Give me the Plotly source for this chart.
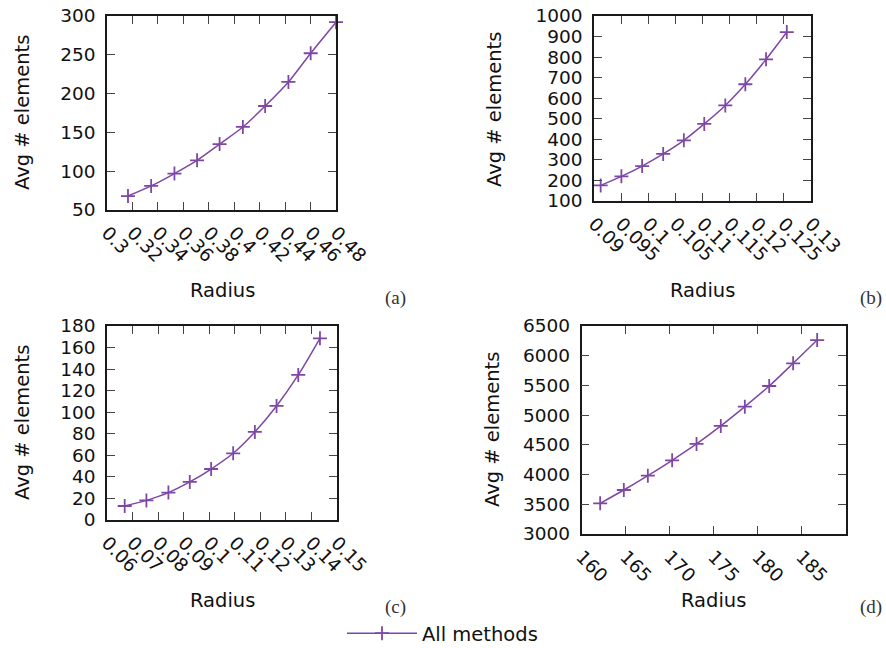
import plotly.graph_objects as go

# ---- data ----
radius_a = [0.3165, 0.3347, 0.3530, 0.3708, 0.3885, 0.4068, 0.4243, 0.4426, 0.4601, 0.4800]
elems_a = [68, 81, 97, 114, 135, 157, 184, 215, 252, 292]

radius_b = [0.09123, 0.09506, 0.09889, 0.10278, 0.10660, 0.11037, 0.11426, 0.11796, 0.12179, 0.12562]
elems_b = [176, 220, 270, 329, 395, 475, 565, 668, 789, 922]

radius_c = [0.06694, 0.07545, 0.08408, 0.09246, 0.10084, 0.10948, 0.11798, 0.12649, 0.13500, 0.14351]
elems_c = [13, 18.2, 25.4, 35.3, 47.3, 61.9, 81.7, 105.8, 134.6, 168.6]

radius_d = [162.12, 164.81, 167.54, 170.30, 173.07, 175.83, 178.56, 181.33, 184.05, 186.78]
elems_d = [3516, 3740, 3982, 4240, 4515, 4818, 5143, 5490, 5872, 6264]

xticks_a = [0.3, 0.32, 0.34, 0.36, 0.38, 0.4, 0.42, 0.44, 0.46, 0.48]
xlabels_a = ["0.3", "0.32", "0.34", "0.36", "0.38", "0.4", "0.42", "0.44", "0.46", "0.48"]
yticks_a = [50, 100, 150, 200, 250, 300]

xticks_b = [0.09, 0.095, 0.1, 0.105, 0.11, 0.115, 0.12, 0.125, 0.13]
xlabels_b = ["0.09", "0.095", "0.1", "0.105", "0.11", "0.115", "0.12", "0.125", "0.13"]
yticks_b = [100, 200, 300, 400, 500, 600, 700, 800, 900, 1000]

xticks_c = [0.06, 0.07, 0.08, 0.09, 0.1, 0.11, 0.12, 0.13, 0.14, 0.15]
xlabels_c = ["0.06", "0.07", "0.08", "0.09", "0.1", "0.11", "0.12", "0.13", "0.14", "0.15"]
yticks_c = [0, 20, 40, 60, 80, 100, 120, 140, 160, 180]

xticks_d = [160, 165, 170, 175, 180, 185]
xlabels_d = ["160", "165", "170", "175", "180", "185"]
yticks_d = [3000, 3500, 4000, 4500, 5000, 5500, 6000, 6500]

series_name = "All methods"
panel_labels = ["(a)", "(b)", "(c)", "(d)"]

W, H = 886, 648
COLOR = "#7e47a5"
AXC = "#1a1a1a"
SANS = "DejaVu Sans"
SERIF = "Liberation Serif"

def px_x(p):
    return p / W

def px_y(p):
    return 1 - p / H

panels = [
    dict(x=radius_a, y=elems_a, xt=xticks_a, xl=xlabels_a, yt=yticks_a,
         xr=[0.3, 0.48], yr=[50, 300], box=(107, 336, 16, 210)),
    dict(x=radius_b, y=elems_b, xt=xticks_b, xl=xlabels_b, yt=yticks_b,
         xr=[0.09, 0.13], yr=[100, 1000], box=(594, 810.5, 16, 201)),
    dict(x=radius_c, y=elems_c, xt=xticks_c, xl=xlabels_c, yt=yticks_c,
         xr=[0.06, 0.15], yr=[0, 180], box=(107, 336.5, 326, 520)),
    dict(x=radius_d, y=elems_d, xt=xticks_d, xl=xlabels_d, yt=yticks_d,
         xr=[160, 190], yr=[3000, 6500], box=(581.5, 845.5, 326, 534)),
]

fig = go.Figure()
layout = {}
for i, p in enumerate(panels):
    n = "" if i == 0 else str(i + 1)
    x0, x1, y0, y1 = p["box"]
    fig.add_trace(go.Scatter(
        x=p["x"], y=p["y"], mode="lines+markers",
        name=series_name, showlegend=(i == 0),
        xaxis="x" + n, yaxis="y" + n,
        line=dict(color=COLOR, width=1.5, shape="spline", smoothing=0.8),
        marker=dict(symbol="cross-thin", size=10, line=dict(color=COLOR, width=1.8)),
        cliponaxis=False,
    ))
    common = dict(showline=True, linecolor=AXC, linewidth=1.5, mirror="allticks",
                  ticks="inside", ticklen=8, tickwidth=1.2, tickcolor="#444",
                  showgrid=False, zeroline=False, automargin=False,
                  tickfont=dict(family=SANS, size=18.5, color="#111"))
    layout["xaxis" + n] = dict(common, domain=[px_x(x0), px_x(x1)], range=p["xr"],
                               anchor="y" + n, tickmode="array", tickvals=p["xt"],
                               ticktext=p["xl"], tickangle=45, ticklabelstandoff=3)
    layout["yaxis" + n] = dict(common, domain=[px_y(y1), px_y(y0)], range=p["yr"],
                               anchor="x" + n, tickmode="array", tickvals=p["yt"],
                               ticklabelstandoff=6)

fig.update_layout(**layout)

# axis titles and panel labels as annotations
ann = []
ytitle_pos = [(22, 113), (495, 110), (22, 423), (493, 430)]
xtitle_pos = [(222, 290), (702, 290), (222, 600), (713, 600)]
label_pos = [(395, 298), (871, 298), (395, 607), (871, 607)]
for (xx, yy) in ytitle_pos:
    ann.append(dict(text="Avg # elements", x=px_x(xx), y=px_y(yy), xref="paper", yref="paper",
                    showarrow=False, textangle=-90, xanchor="center", yanchor="middle",
                    font=dict(family=SANS, size=19.5, color="#111")))
for (xx, yy) in xtitle_pos:
    ann.append(dict(text="Radius", x=px_x(xx), y=px_y(yy), xref="paper", yref="paper",
                    showarrow=False, xanchor="center", yanchor="middle",
                    font=dict(family=SANS, size=19.5, color="#111")))
for lab, (xx, yy) in zip(panel_labels, label_pos):
    ann.append(dict(text=lab, x=px_x(xx), y=px_y(yy), xref="paper", yref="paper",
                    showarrow=False, xanchor="center", yanchor="middle",
                    font=dict(family=SERIF, size=19, color="#333")))

fig.update_layout(
    width=W, height=H, margin=dict(l=0, r=0, t=0, b=0, autoexpand=False),
    paper_bgcolor="white", plot_bgcolor="white",
    annotations=ann,
    showlegend=True,
    legend=dict(x=px_x(342), y=px_y(653), xanchor="left", yanchor="bottom",
                font=dict(family=SANS, size=19.5, color="#111"),
                bgcolor="rgba(0,0,0,0)", itemwidth=70, borderwidth=0),
)

fig.write_html("out.html", config={"displayModeBar": False},
               post_script="document.body.style.margin='0';document.body.style.overflow='hidden';")
